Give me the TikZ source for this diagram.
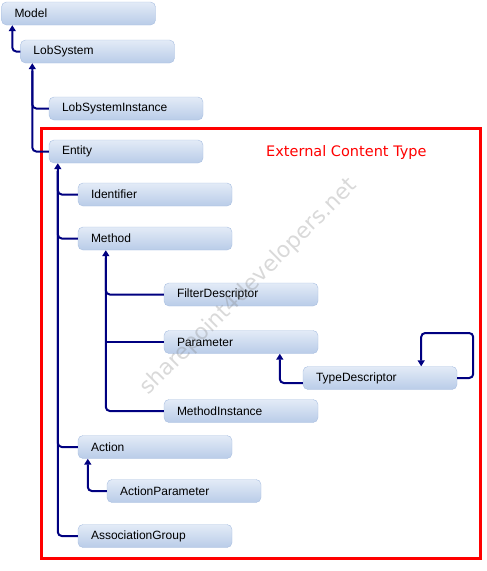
\documentclass[tikz,border=0pt]{standalone}
\usepackage{fontspec}
\setmainfont{Liberation Sans}
\newfontfamily\ectfont{DejaVu Sans}
\usetikzlibrary{arrows.meta}
\definecolor{boxtop}{HTML}{E3EBF7}
\definecolor{boxbot}{HTML}{B9CCE8}
\definecolor{boxline}{HTML}{A9BFE1}
\definecolor{treeblue}{HTML}{000080}

\begin{document}
\begin{tikzpicture}[x=1pt,y=-1pt]
\useasboundingbox (0,0) rectangle (487,571);
\tikzstyle{bdc}= [rectangle,
rounded corners=5pt, draw=boxline, top color=boxtop, bottom color=boxbot,
 minimum height=23pt, text width=128pt, inner xsep=13pt, inner ysep=0pt,
 align=left, font=\fontsize{12}{14}\selectfont];
\tikzstyle{link}=[draw=treeblue, line width=2pt, rounded corners=4pt,
 -{Triangle[length=6pt,width=7pt]}];
\tikzstyle{branch}=[draw=treeblue, line width=2pt, rounded corners=4pt, shorten >=8pt];

% external content type frame
\draw[red, line width=3.3pt] (41.7,128.7) rectangle (480.7,558.3);
\node(ect)[anchor=west, inner sep=0pt, text=red, font=\ectfont\fontsize{14.5}{16}\selectfont]
  at (266,152.5) {External Content Type};

\node(model)[bdc] at (78.5,13.5) {Model};
\node(lobsystem)[bdc] at (97.5,51.5) {LobSystem};
\node(lobsysteminstance)[bdc] at (126,108.5) {LobSystemInstance};
\node(entity)[bdc] at (126,151.5) {Entity};
\node(identifier)[bdc] at (155,194.5) {Identifier};
\node(method)[bdc] at (155,238.5) {Method};
\node(filterdescriptor)[bdc] at (241,294.5) {FilterDescriptor};
\node(parameter)[bdc] at (241,342) {Parameter};
\node(typedescriptor)[bdc] at (380,378) {TypeDescriptor};
\node(methodinstance)[bdc] at (241,411) {MethodInstance};
\node(action)[bdc] at (155,447) {Action};
\node(actionparameter)[bdc] at (184,491) {ActionParameter};
\node(associationgroup)[bdc] at (155,536) {AssociationGroup};

\coordinate(mtrunk) at ([xshift=28pt]method.south west);

% model and lob system
\draw[link] (lobsystem.west) -| ([xshift=11pt]model.south west);
\draw[link] (entity.west) -| ([xshift=12pt]lobsystem.south west);
\draw[branch] (lobsysteminstance.west) -| ([xshift=12pt]lobsystem.south west);

% entity
\draw[link] (associationgroup.west) -| ([xshift=9pt]entity.south west);
\draw[branch] (identifier.west) -| ([xshift=9pt]entity.south west);
\draw[branch] (method.west) -| ([xshift=9pt]entity.south west);
\draw[branch] (action.west) -| ([xshift=9pt]entity.south west);

% method
\draw[link] (methodinstance.west) -| (mtrunk);
\draw[branch] (filterdescriptor.west) -| (mtrunk);
\draw[draw=treeblue, line width=2pt] (parameter.west) -- (parameter.west -| mtrunk);

% parameter and type descriptor
\draw[link] ([yshift=-5pt]typedescriptor.west) -| ([xshift=116pt]parameter.south west);
\draw[link] (typedescriptor.east) -- ++(16,0) -- ++(0,-45)
  -| ([xshift=-36pt]typedescriptor.north east);

% action
\draw[link] (actionparameter.west) -| ([xshift=10pt]action.south west);

% watermark on top
\node(wm)[rotate=45, text=gray, opacity=0.3, font=\ectfont\fontsize{22}{24}\selectfont]
  at (249,287) {sharepoint4developers.net};

\end{tikzpicture}
\end{document}
